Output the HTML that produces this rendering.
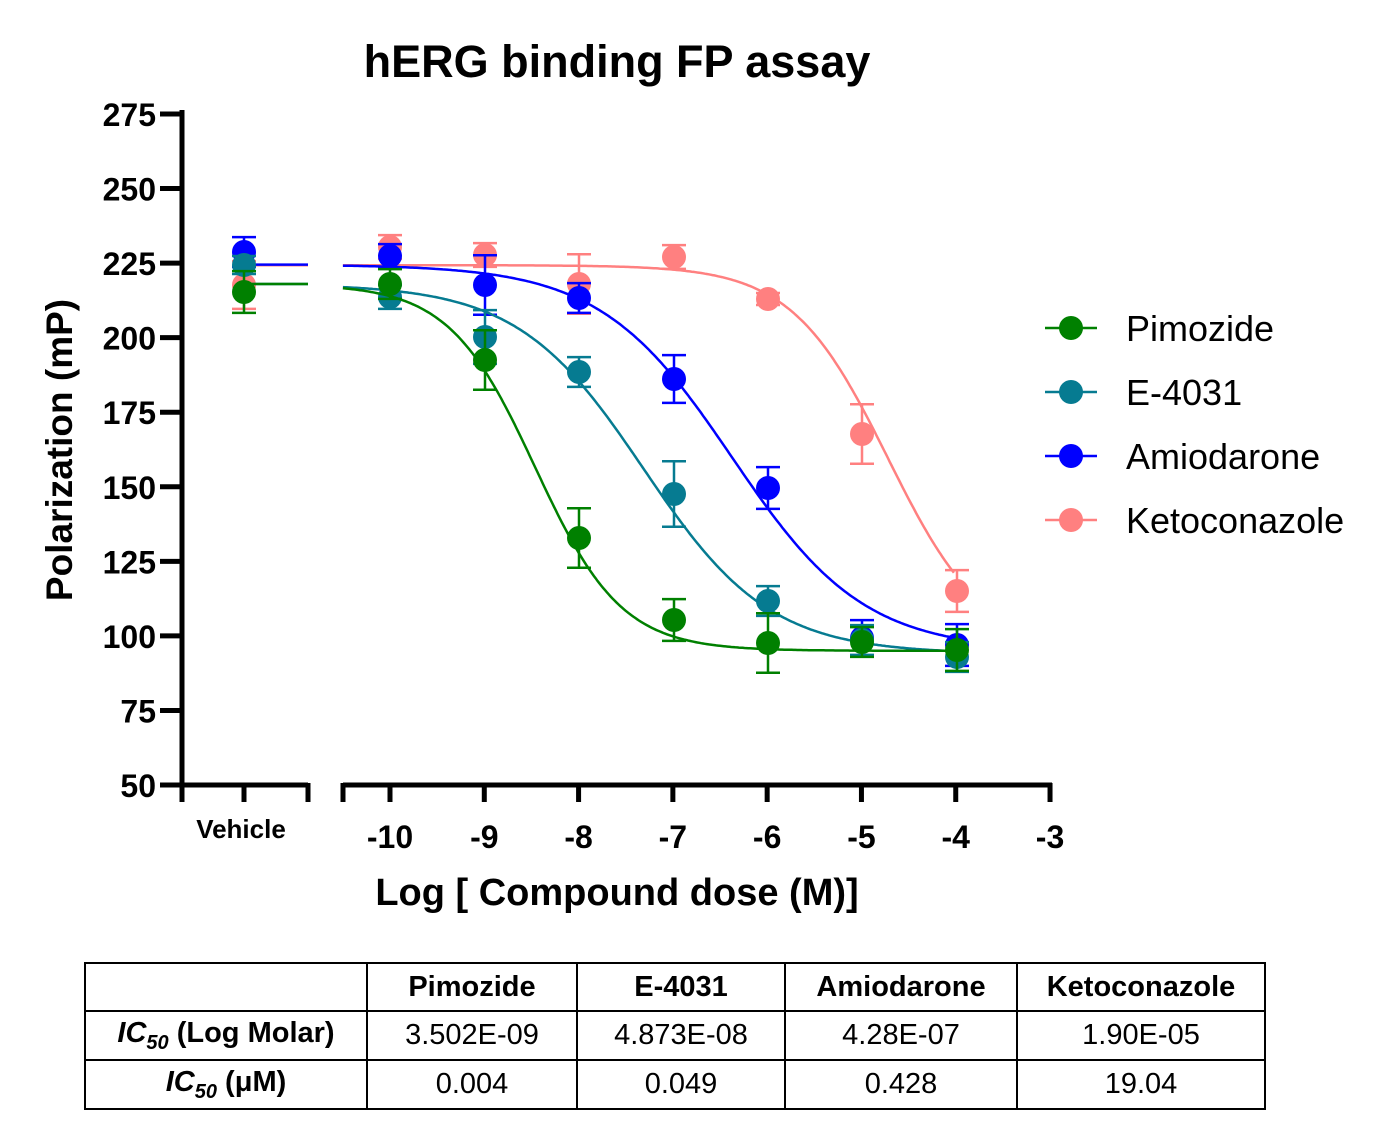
<!DOCTYPE html>
<html><head><meta charset="utf-8">
<style>
html,body{margin:0;padding:0;background:#fff;width:1400px;height:1146px;overflow:hidden}
svg{position:absolute;left:0;top:0}
text{font-family:"Liberation Sans",sans-serif}
table{position:absolute;left:84px;top:962px;border-collapse:collapse;font-family:"Liberation Sans",sans-serif;font-size:29px}
td{border:2px solid #000;text-align:center;padding:0;height:47px}
th{border:2px solid #000;font-weight:bold;height:46px;padding:0}
</style></head><body>
<svg id="s" width="1400" height="950" viewBox="0 0 1400 950">
<text x="617" y="77" text-anchor="middle" font-size="45" font-weight="bold">hERG binding FP assay</text>
<g stroke="#000" stroke-width="5" fill="none" id="axes">
<line x1="182" y1="110" x2="182" y2="787"/>
<line x1="180" y1="785" x2="308" y2="785"/>
<line x1="343" y1="785" x2="1052" y2="785"/>
</g>
<g id="ticks"></g>
<g id="plot"></g>
<text transform="translate(72,450) rotate(-90)" text-anchor="middle" font-size="37" font-weight="bold">Polarization (mP)</text>
<text x="241" y="838" text-anchor="middle" font-size="26" font-weight="bold">Vehicle</text>
<text x="617" y="905" text-anchor="middle" font-size="38" font-weight="bold">Log [ Compound dose (M)]</text>
<g id="legend"></g>
</svg>
<table>
<tr><th style="width:280px"></th><th style="width:208px">Pimozide</th><th style="width:206px">E-4031</th><th style="width:230px">Amiodarone</th><th style="width:246px">Ketoconazole</th></tr>
<tr><td style="font-weight:bold"><i>IC<sub style="font-size:20px">50</sub></i> (Log Molar)</td><td>3.502E-09</td><td>4.873E-08</td><td>4.28E-07</td><td>1.90E-05</td></tr>
<tr><td style="font-weight:bold"><i>IC<sub style="font-size:20px">50</sub></i> (μM)</td><td>0.004</td><td>0.049</td><td>0.428</td><td>19.04</td></tr>
</table>
<script>
var NS="http://www.w3.org/2000/svg";
function el(p,t,a,txt){var e=document.createElementNS(NS,t);for(var k in a)e.setAttribute(k,a[k]);if(txt!=null)e.textContent=txt;document.getElementById(p).appendChild(e);return e;}
function Y(v){return 785-(v-50)*2.9822;}
function X(l){return 390+(l+10)*94.29;}
for(var v=50;v<=275;v+=25){var y=Y(v);el("ticks","line",{x1:160,y1:y,x2:182,y2:y,stroke:"#000","stroke-width":5});
el("ticks","text",{x:156,y:y+12,"text-anchor":"end","font-size":32,"font-weight":"bold"},v);}
[182,244,308,343].forEach(function(x){el("ticks","line",{x1:x,y1:783,x2:x,y2:802,stroke:"#000","stroke-width":5});});
for(var l=-10;l<=-3;l++){var x=X(l);el("ticks","line",{x1:x,y1:783,x2:x,y2:802,stroke:"#000","stroke-width":5});
el("ticks","text",{x:x,y:848,"text-anchor":"middle","font-size":32,"font-weight":"bold"},l);}
var S=[
{n:"Ketoconazole",c:"#ff8080",T:224.3,B:95,L:-4.72,h:0.85,pts:[[244,285,8],[390,247,4],[485,255,4],[579,284,10],[674,257,4],[768,299,2],[862,434,10],[957,591,7]]},
{n:"Amiodarone",c:"#0000ff",T:224.5,B:95,L:-6.37,h:0.62,pts:[[244,252,5],[390,256,4],[485,285,10],[579,298,5],[674,379,8],[768,488,7],[862,638,6],[957,645,7]]},
{n:"E-4031",c:"#067b91",T:218,B:94,L:-7.31,h:0.65,pts:[[244,265,3],[390,297,4],[485,337,9],[579,372,5],[674,494,11],[768,601,5],[862,640,5],[957,657,5]]},
{n:"Pimozide",c:"#008000",T:218,B:95,L:-8.46,h:0.95,pts:[[244,292,7],[390,284,5],[485,360,10],[579,538,10],[674,620,7],[768,643,10],[862,642,5],[957,650,7]]}
];
S.forEach(function(s){
 var yt=Y(s.T);
 el("plot","line",{x1:244,y1:yt,x2:308,y2:yt,stroke:s.c,"stroke-width":2.5});
 var d="";for(var l=-10.5;l<=-4.0001;l+=0.02){var v=s.B+(s.T-s.B)/(1+Math.pow(10,(l-s.L)*s.h));d+=(d?"L":"M")+X(l).toFixed(1)+","+Y(v).toFixed(1);}
 el("plot","path",{d:d,stroke:s.c,"stroke-width":2.5,fill:"none"});
 s.pts.forEach(function(p){var e=p[2]*2.98;
  el("plot","path",{d:"M"+p[0]+","+(p[1]-e)+"V"+(p[1]+e)+"M"+(p[0]-12)+","+(p[1]-e)+"h24M"+(p[0]-12)+","+(p[1]+e)+"h24",stroke:s.c,"stroke-width":2.5,fill:"none"});
  el("plot","circle",{cx:p[0],cy:p[1],r:12,fill:s.c});});
});
var L=[["Pimozide","#008000"],["E-4031","#067b91"],["Amiodarone","#0000ff"],["Ketoconazole","#ff8080"]];
L.forEach(function(a,i){var y=328+i*64;
 el("legend","line",{x1:1045,y1:y,x2:1097,y2:y,stroke:a[1],"stroke-width":2.5});
 el("legend","circle",{cx:1071,cy:y,r:12,fill:a[1]});
 el("legend","text",{x:1126,y:y+13,"font-size":36},a[0]);});
</script>
</body></html>
